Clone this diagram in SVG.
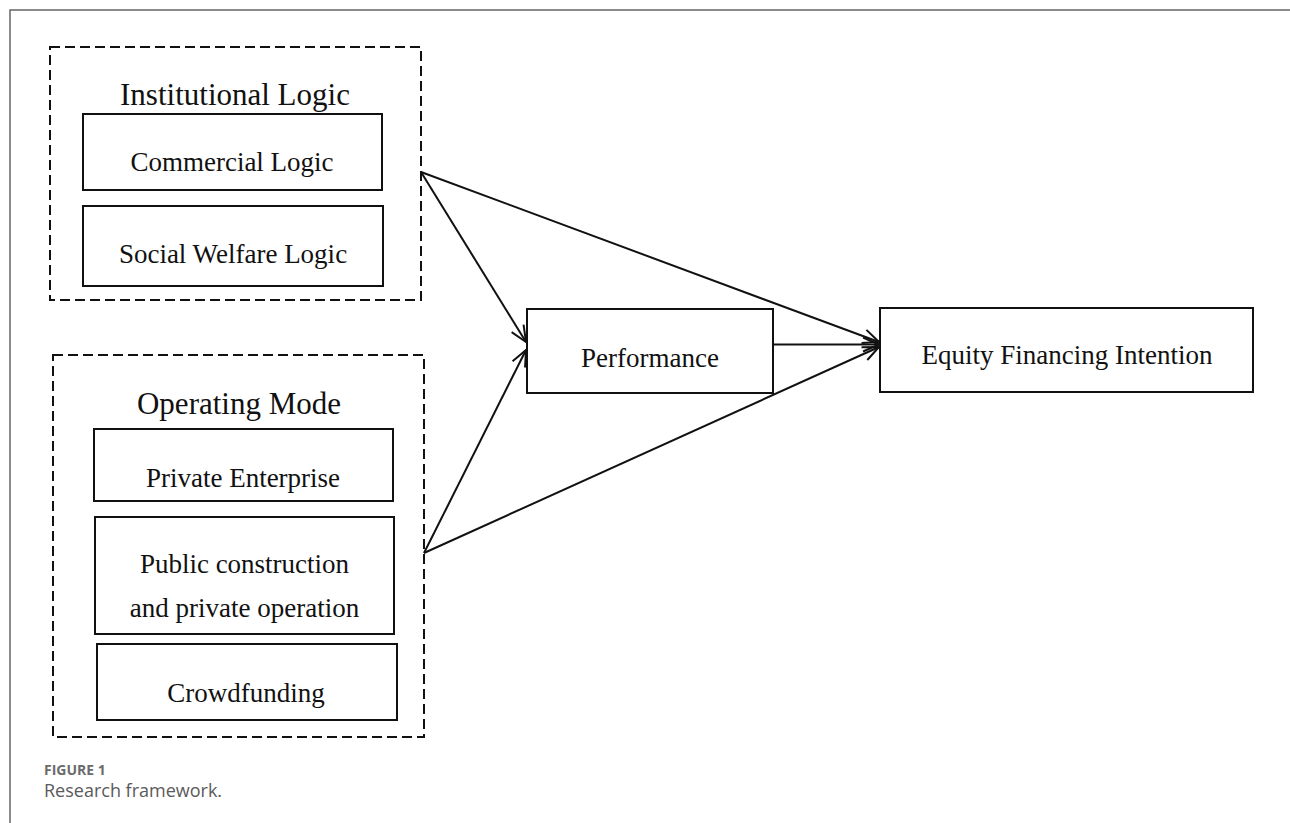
<svg xmlns="http://www.w3.org/2000/svg" width="1290" height="823" viewBox="0 0 1290 823">
<style>
.bg{fill:#ffffff}
.frame{stroke:#666;stroke-width:1.5;fill:none}
.dash{fill:none;stroke:#111;stroke-width:2;stroke-dasharray:10 5}
.box{fill:#fff;stroke:#111;stroke-width:2}
.t{font-family:"Liberation Serif","Times New Roman",serif;fill:#111;text-anchor:middle}
.title{font-size:31px}
.lbl{font-size:27px}
.conn{stroke:#111;stroke-width:2;fill:none}
.capb{font-family:"Open Sans","Noto Sans",sans-serif;font-weight:bold;font-size:14px;fill:#6b6b6b}
.cap{font-family:"Open Sans","Noto Sans",sans-serif;font-size:18px;fill:#5a5a5a}
</style>
<defs>
<marker id="arr" markerUnits="userSpaceOnUse" markerWidth="20" markerHeight="16" viewBox="0 0 20 16" refX="18" refY="8" orient="auto">
<path d="M2,1 L18,8 L2,15" fill="none" stroke="#111" stroke-width="2"/>
</marker>
</defs>
<rect class="bg" x="0" y="0" width="1290" height="823"/>
<path class="frame" d="M10,823 L10,10 L1290,10"/>

<g id="institutional-logic">
<rect class="dash" x="50" y="47" width="371" height="253"/>
<text class="t title" x="235" y="105">Institutional Logic</text>
</g>
<g id="commercial-logic">
<rect class="box" x="83" y="114" width="299" height="76"/>
<text class="t lbl" x="232" y="171">Commercial Logic</text>
</g>
<g id="social-welfare-logic">
<rect class="box" x="83" y="206" width="300" height="80"/>
<text class="t lbl" x="233" y="263">Social Welfare Logic</text>
</g>

<g id="operating-mode">
<rect class="dash" x="53" y="355" width="371" height="382"/>
<text class="t title" x="239" y="414">Operating Mode</text>
</g>
<g id="private-enterprise">
<rect class="box" x="94" y="429" width="299" height="72"/>
<text class="t lbl" x="243" y="487">Private Enterprise</text>
</g>
<g id="public-construction">
<rect class="box" x="95" y="517" width="299" height="117"/>
<text class="t lbl" x="244.5" y="573">Public construction</text>
<text class="t lbl" x="244.5" y="617">and private operation</text>
</g>
<g id="crowdfunding">
<rect class="box" x="97" y="644" width="300" height="76"/>
<text class="t lbl" x="246" y="702">Crowdfunding</text>
</g>

<g id="performance">
<rect class="box" x="527" y="309" width="246" height="84"/>
<text class="t lbl" x="650" y="367">Performance</text>
</g>
<g id="equity-financing-intention">
<rect class="box" x="880" y="308" width="373" height="84"/>
<text class="t lbl" x="1067" y="364">Equity Financing Intention</text>
</g>

<g id="connectors">
<line class="conn" x1="421" y1="172" x2="526" y2="342" marker-end="url(#arr)"/>
<line class="conn" x1="421" y1="172" x2="879" y2="342" marker-end="url(#arr)"/>
<line class="conn" x1="424" y1="553" x2="526" y2="350" marker-end="url(#arr)"/>
<line class="conn" x1="424" y1="553" x2="879" y2="347" marker-end="url(#arr)"/>
<line class="conn" x1="773" y1="344.5" x2="879" y2="344.5" marker-end="url(#arr)"/>
</g>

<text class="capb" x="44" y="775">FIGURE 1</text>
<text class="cap" x="44" y="797">Research framework.</text>
</svg>
